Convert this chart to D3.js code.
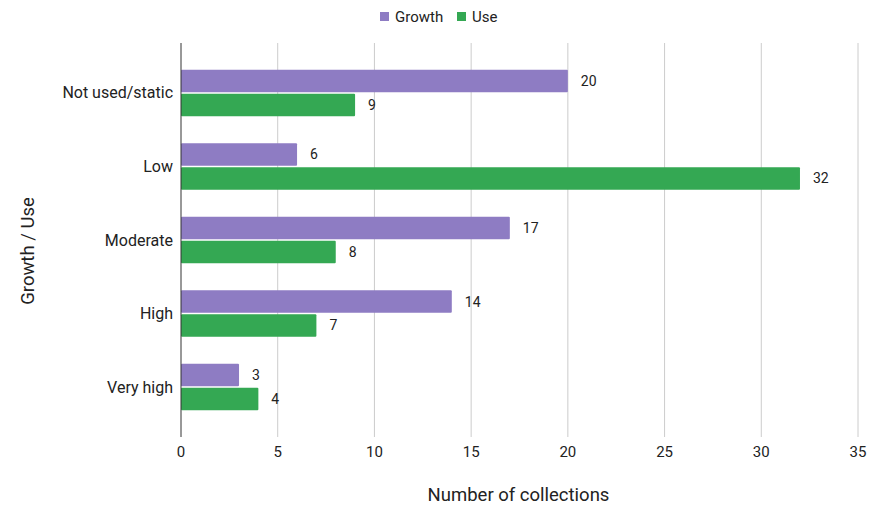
<!DOCTYPE html>
<html>
<head>
<meta charset="utf-8">
<script src="https://cdn.jsdelivr.net/npm/d3@7"></script>
<style>
  body { margin: 0; background: #fff; }
  svg text { font-family: Roboto, "Noto Sans", sans-serif; }
</style>
</head>
<body>
<div id="chart"></div>
<script>
// data
const categories = ['Not used/static', 'Low', 'Moderate', 'High', 'Very high'];
const seriesNames = ['Growth', 'Use'];
const growthValues = [20, 6, 17, 14, 3];
const useValues = [9, 32, 8, 7, 4];
const xTicks = [0, 5, 10, 15, 20, 25, 30, 35];

const colors = { Growth: '#8e7cc3', Use: '#34a853' };
const W = 881, H = 506;
const margin = { top: 43, right: 23, bottom: 69, left: 181 };
const innerW = W - margin.left - margin.right;
const innerH = H - margin.top - margin.bottom;

const svg = d3.select('#chart').append('svg')
    .attr('width', W)
    .attr('height', H);

const g = svg.append('g')
    .attr('transform', `translate(${margin.left},${margin.top})`);

const x = d3.scaleLinear().domain([0, 35]).range([0, innerW]);
const y = d3.scaleBand().domain(categories).range([0, innerH])
    .paddingInner(0.37).paddingOuter(0.365);
const ySub = d3.scaleBand().domain(seriesNames).range([0, y.bandwidth()]).paddingInner(0.07);

// gridlines
g.selectAll('.grid').data(xTicks.filter(d => d > 0)).enter()
    .append('line')
    .attr('x1', d => x(d)).attr('x2', d => x(d))
    .attr('y1', 0).attr('y2', innerH)
    .style('stroke', '#cccccc').style('stroke-width', 1);

// x tick labels
g.selectAll('.xt').data(xTicks).enter()
    .append('text')
    .attr('x', d => x(d))
    .attr('y', innerH + 20)
    .attr('text-anchor', 'middle')
    .style('font-size', '15px').style('fill', '#222')
    .text(d => d);

// rows
const rows = categories.map((c, i) => ({ cat: c, vals: [growthValues[i], useValues[i]] }));
const groups = g.selectAll('.row').data(rows).enter()
    .append('g')
    .attr('transform', d => `translate(0,${y(d.cat)})`);

groups.selectAll('rect').data(d => d.vals.map((v, j) => ({ name: seriesNames[j], v }))).enter()
    .append('rect')
    .attr('x', 0)
    .attr('y', d => ySub(d.name))
    .attr('width', d => x(d.v))
    .attr('height', ySub.bandwidth())
    .attr('rx', 1)
    .style('fill', d => colors[d.name]);

groups.selectAll('.val').data(d => d.vals.map((v, j) => ({ name: seriesNames[j], v }))).enter()
    .append('text')
    .attr('x', d => x(d.v) + 13)
    .attr('y', d => ySub(d.name) + ySub.bandwidth() / 2)
    .attr('dominant-baseline', 'central')
    .style('font-size', '14px').style('fill', '#222')
    .text(d => d.v);

// category labels
g.selectAll('.cat').data(categories).enter()
    .append('text')
    .attr('x', -8)
    .attr('y', d => y(d) + y.bandwidth() / 2)
    .attr('dominant-baseline', 'central')
    .attr('text-anchor', 'end')
    .style('font-size', '16px').style('fill', '#222')
    .text(d => d);

// vertical axis line
g.append('line')
    .attr('x1', 0).attr('x2', 0)
    .attr('y1', 0).attr('y2', innerH)
    .style('stroke', '#333').style('stroke-width', 1);

// axis titles
svg.append('text')
    .attr('x', margin.left + innerW / 2 - 1)
    .attr('y', 501)
    .attr('text-anchor', 'middle')
    .style('font-size', '18.5px').style('fill', '#222')
    .text('Number of collections');

svg.append('text')
    .attr('transform', `translate(34,${margin.top + innerH / 2 + 11}) rotate(-90)`)
    .attr('text-anchor', 'middle')
    .style('font-size', '18.5px').style('fill', '#222')
    .text('Growth / Use');

// legend
const legend = svg.append('g').attr('transform', 'translate(380,17)');
const legendX = [0, 77];
seriesNames.forEach((s, i) => {
    legend.append('rect')
        .attr('x', legendX[i]).attr('y', -5)
        .attr('width', 9).attr('height', 9)
        .style('fill', colors[s]);
    legend.append('text')
        .attr('x', legendX[i] + 15).attr('y', 0)
        .attr('dominant-baseline', 'central')
        .style('font-size', '15px').style('fill', '#222')
        .text(s);
});
</script>
</body>
</html>
